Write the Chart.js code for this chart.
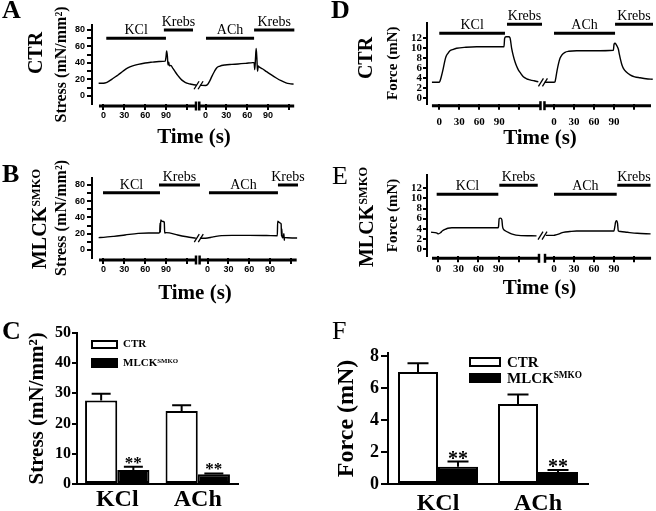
<!DOCTYPE html>
<html>
<head>
<meta charset="utf-8">
<script src="https://cdn.jsdelivr.net/npm/chart.js@4.4.0/dist/chart.umd.min.js"></script>
<style>
body { margin: 0; background: #fff; }
#fig { position: relative; width: 656px; height: 511px; overflow: hidden; background: #fff; color: #000;
       font-family: "Liberation Serif", "Times New Roman", serif; }
#fig canvas { position: absolute; left: 0; top: 0; }
.t { position: absolute; white-space: nowrap; line-height: 1; }
.letter { font-size: 26px; font-weight: bold; }
.row { font-size: 20px; font-weight: bold; transform: translate(-50%, -50%) rotate(-90deg); }
.sup { position: relative; top: -0.5em; font-size: 0.62em; }
.box { position: absolute; box-sizing: border-box; border: 2px solid #000; background: #fff; }
.box.k { background: #000; }
.leg { font-weight: bold; }
</style>
</head>
<body>
<div id="fig">
  <canvas id="cA" width="656" height="511"></canvas>
  <canvas id="cB" width="656" height="511"></canvas>
  <canvas id="cC" width="656" height="511"></canvas>
  <canvas id="cD" width="656" height="511"></canvas>
  <canvas id="cE" width="656" height="511"></canvas>
  <canvas id="cF" width="656" height="511"></canvas>

  <div class="t letter" style="left:2px;top:-3px">A</div>
  <div class="t letter" style="left:2px;top:161px">B</div>
  <div class="t letter" style="left:2px;top:318px">C</div>
  <div class="t letter" style="left:331px;top:-3px">D</div>
  <div class="t letter" style="left:332px;top:163px;font-weight:normal">E</div>
  <div class="t letter" style="left:332px;top:318px;font-weight:normal">F</div>

  <div class="t row" style="left:35px;top:53px">CTR</div>
  <div class="t row" style="left:39px;top:219px">MLCK<span class="sup">SMKO</span></div>
  <div class="t row" style="left:365px;top:58px">CTR</div>
  <div class="t row" style="left:366px;top:217px">MLCK<span class="sup">SMKO</span></div>

  <div class="box" style="left:91px;top:340px;width:27px;height:9px"></div>
  <div class="box k" style="left:91px;top:358px;width:27px;height:10px"></div>
  <div class="t leg" style="left:123px;top:338px;font-size:11px">CTR</div>
  <div class="t leg" style="left:123px;top:357px;font-size:11px">MLCK<span class="sup">SMKO</span></div>

  <div class="box" style="left:469px;top:357px;width:32px;height:10px"></div>
  <div class="box k" style="left:469px;top:373px;width:32px;height:10px"></div>
  <div class="t leg" style="left:507px;top:355px;font-size:15px">CTR</div>
  <div class="t leg" style="left:507px;top:371px;font-size:15px">MLCK<span class="sup">SMKO</span></div>
</div>

<script>
// time axis of every trace: two recordings, each with its own 0..120 s
const timeTicks = [0, 30, 60, 90, 120]
const timeLabels = ['0', '30', '60', '90', '']
const stimNames = ['KCl', 'Krebs', 'ACh', 'Krebs']

// A  CTR stress (mN/mm2), [time s, value]
const ctrStressKcl = [[-7,15.4],[0,15.5],[4,16.2],[8,18],[14,21.5],[21,25.5],[28,30],[35,34],[42,36.5],[50,38.4],[60,40],[70,41],[80,41.8],[89,42.3],[90,47],[91,54.5],[92,49],[93,37.6],[94,41],[95,36.5],[97,37],[100,33.5],[104,28.5],[107,25],[111,21],[115,18],[120,15.5],[125,14.5],[130,13.6],[134,13.3]]
const ctrStressAch = [[-8,13],[0,12.8],[3,14],[6,18],[9,23.5],[13,30],[16,34],[20,36],[28,37.6],[38,38.3],[47,38.8],[58,39.6],[68,40.4],[70,40.5],[71,32],[72,45],[73,57.5],[74,46],[75,30],[76,36.5],[77,35.5],[82,33],[88,29.5],[95,25.5],[102,21.8],[109,18.5],[116,16],[121,15],[127,14.4]]
const ctrStressStim = [[4,90],[87,129],[0.7,70],[70,128]]

// B  MLCK SMKO stress
const koStressKcl = [[-7,15.2],[0,15.5],[15,16.8],[31,18.5],[50,20.5],[65,21],[80,21],[81,21.5],[81.5,33],[82,22],[82.5,37],[84,35.5],[86,35],[87.6,34],[88.2,21],[90,21.4],[95,21],[107,18.5],[120,16.3],[133,14.5]]
const koStressAch = [[-11,14.5],[0,14.8],[6,15.8],[12,16.8],[20,17.7],[35,18],[60,18],[85,17.8],[100.5,17.6],[101,35.5],[103,34],[105,33],[106,32],[106.5,17],[107,26],[107.5,15],[109,16],[110,20],[110.5,12],[111,15.5],[115,15],[122,14.8],[129,14.8]]
const koStressStim = [[-0.7,81.4],[80,139],[2,101.4],[101.4,130.3]]

// D  CTR force (mN)
const ctrForceKcl = [[-11,3.2],[0,3.2],[1,3.4],[3,4.3],[6,6],[8,7.3],[10,8.3],[13,9],[16,9.5],[21,9.8],[26,10],[40,10.2],[56,10.3],[80,10.3],[97,10.3],[98,12],[100,12.3],[104,12.3],[106,12.1],[108.5,10],[111,8.5],[113.5,7.3],[116,6.4],[118.5,5.7],[122,5],[126,4.3],[131,3.9],[136,3.7],[142,3.5],[148.5,3.3]]
const ctrForceAch = [[-14,3.2],[0,3.2],[1.5,3.3],[3,4.3],[4.5,5.5],[6.5,6.8],[9,8],[12,8.7],[16.5,9.2],[22,9.4],[34,9.5],[60,9.5],[89,9.6],[90,10.8],[91.5,11],[93,10.8],[95,10.3],[96.5,9.8],[98,8.8],[100,7.6],[102,6.6],[104,6],[108,5.3],[114,4.7],[121,4.3],[129,4.1],[138,3.9],[148,3.8]]
const ctrForceStim = [[0,98.5],[101.5,154],[0,91.5],[91.5,148.4]]

// E  MLCK SMKO force
const koForceKcl = [[-11,3.3],[-3,3.2],[0,3.0],[3,3.2],[6,3.6],[10,3.9],[14,4.1],[20,4.2],[40,4.2],[89,4.2],[90,4.4],[91,6.0],[93,6.1],[95,5.8],[96,4.5],[97,4.0],[100,3.6],[106,3.2],[112,2.9],[120,2.7],[147,2.6]]
const koForceAch = [[-12,2.7],[0,2.7],[3,2.8],[8,3.0],[14,3.3],[24,3.45],[34,3.55],[60,3.55],[90,3.55],[91.5,4.5],[92.5,5.3],[94,5.6],[95.5,5.0],[96.5,3.6],[100,3.45],[110,3.3],[125,3.1],[145,3.0]]
const koForceStim = [[-2.7,89.7],[91.2,148.8],[0.2,94.2],[95,145]]

// C and F summary bars, mean and SEM
const groups = ['KCl', 'ACh']
const stressCtr = [27.6, 24.1]
const stressCtrSem = [2.2, 1.9]
const stressKo = [4.6, 3.2]
const stressKoSem = [1.1, 0.3]
const forceCtr = [7.0, 5.0]
const forceCtrSem = [0.55, 0.6]
const forceKo = [1.08, 0.75]
const forceKoSem = [0.32, 0.12]

const serif = '"Liberation Serif", "Times New Roman", serif'
const sans = '"Liberation Sans", Arial, sans-serif'
Chart.defaults.color = '#000'
Chart.defaults.font.family = serif

function tracePlugin(p) {
    return {
        id: 'trace',
        afterDraw(chart) {
            const ctx = chart.ctx
            const x = chart.scales.x
            const y = chart.scales.y
            ctx.save()
            ctx.fillStyle = '#000'
            ctx.strokeStyle = '#000'
            // break marks on the trace
            const bx = x.getPixelForValue(p.brk[0])
            const by = y.getPixelForValue(p.brk[1])
            ctx.lineWidth = 1.3
            ;[-2, 2].forEach(d => {
                ctx.beginPath()
                ctx.moveTo(bx + d - 2.5, by + 4)
                ctx.lineTo(bx + d + 2.5, by - 4)
                ctx.stroke()
            })
            // stimulus labels
            ctx.font = '14px ' + serif
            ctx.textAlign = 'center'
            ctx.textBaseline = 'alphabetic'
            chart.data.datasets.forEach((ds, i) => {
                if (!ds.stim) return
                const pts = chart.getDatasetMeta(i).data
                ctx.fillText(ds.label, (pts[0].x + pts[1].x) / 2, pts[0].y - 4)
            })
            ctx.restore()
        },
    }
}

function makeTrace(id, p) {
    const off = p.offset
    const [L, T, R, B] = p.area
    const perUnit = (B - T) / (p.yMax - p.yMin)
    const axisVal = p.yMin - p.axisGap / perUnit
    const barHalf = 4.5 / perUnit
    const shift = (pts, d) => pts.map(([t, v]) => ({ x: t + d, y: v }))
    const line = { borderColor: '#000', borderWidth: 1.4, pointRadius: 0, cubicInterpolationMode: 'monotone', clip: false }
    const flat = { borderColor: '#000', pointRadius: 0, clip: false, borderCapStyle: 'butt' }
    const datasets = [
        { data: shift(p.seg1, 0), ...line },
        { data: shift(p.seg2, off), ...line },
    ]
    stimNames.forEach((name, i) => {
        const [a, b] = p.stim[i]
        const d = i < 2 ? 0 : off
        const lvl = name == 'Krebs' ? p.krebsLevel : p.drugLevel
        datasets.push({ label: name, stim: true, data: [{ x: a + d, y: lvl }, { x: b + d, y: lvl }], borderWidth: 3, ...flat })
    })
    // broken time axis: two segments with a bar at each side of the gap
    p.axisSegs.forEach(([a, b], i) => {
        const e = i == 0 ? b : a
        datasets.push({ data: [{ x: a, y: axisVal }, { x: b, y: axisVal }], borderWidth: 3, ...flat })
        datasets.push({ data: [{ x: e, y: axisVal - barHalf }, { x: e, y: axisVal + barHalf }], borderWidth: 2.5, ...flat })
    })
    const yW = L - (p.yTitleX - p.yTitleSize * 0.6)
    const xH = p.xTitleY + 21 * 0.6 - B
    const tickLen = p.axisGap + 4
    return new Chart(document.getElementById(id), {
        type: 'line',
        data: { datasets },
        options: {
            responsive: false,
            animation: false,
            events: [],
            layout: { padding: { left: L - yW, top: T, right: 656 - R, bottom: 511 - B - xH } },
            plugins: { legend: { display: false }, tooltip: { enabled: false } },
            scales: {
                x: {
                    type: 'linear', min: p.xMin, max: p.xMax,
                    afterFit: s => { s.height = xH },
                    afterBuildTicks: s => {
                        s.ticks = [...timeTicks, ...timeTicks.map(t => t + off)].map(v => ({ value: v }))
                    },
                    ticks: {
                        autoSkip: false, maxRotation: 0, padding: p.xTickPad - tickLen,
                        font: p.tickFont, color: '#000',
                        callback: v => timeLabels[timeTicks.indexOf(v >= off ? v - off : v)],
                    },
                    grid: { display: true, drawOnChartArea: false, drawTicks: true, tickLength: tickLen, lineWidth: 2, color: '#000' },
                    border: { display: false },
                    title: { display: true, text: 'Time (s)', padding: 0, font: { size: 21, weight: 'bold', family: serif } },
                },
                y: {
                    min: p.yMin, max: p.yMax,
                    afterFit: s => { s.width = yW },
                    afterBuildTicks: s => { s.ticks = p.yTicks.map(v => ({ value: v })) },
                    ticks: {
                        autoSkip: false, padding: p.yTickPad, font: p.tickFont, color: '#000',
                        callback: v => (v % p.yLabelEvery === 0 ? v : ''),
                    },
                    grid: { drawOnChartArea: false, tickLength: p.yTickLen, lineWidth: 2, color: '#000' },
                    border: { display: true, width: 2, color: '#000' },
                    title: { display: true, text: p.yTitle, padding: 0, font: { size: p.yTitleSize, weight: 'bold', family: serif } },
                },
            },
        },
        plugins: [tracePlugin(p)],
    })
}

function barPlugin(p) {
    return {
        id: 'errbars',
        afterDraw(chart) {
            const ctx = chart.ctx
            const y = chart.scales.y
            ctx.save()
            ctx.strokeStyle = '#000'
            ctx.fillStyle = '#000'
            ctx.lineWidth = 2
            chart.data.datasets.forEach((ds, i) => {
                chart.getDatasetMeta(i).data.forEach((bar, j) => {
                    const top = y.getPixelForValue(ds.data[j] + ds.sem[j])
                    ctx.beginPath()
                    ctx.moveTo(bar.x, bar.y)
                    ctx.lineTo(bar.x, top)
                    ctx.moveTo(bar.x - p.cap / 2, top)
                    ctx.lineTo(bar.x + p.cap / 2, top)
                    ctx.stroke()
                    if (ds.stars) {
                        ctx.font = 'bold ' + p.starSize + 'px ' + serif
                        ctx.textAlign = 'center'
                        ctx.textBaseline = 'alphabetic'
                        ctx.fillText('**', bar.x, top + p.starDy)
                    }
                })
            })
            ctx.restore()
        },
    }
}

function makeBars(id, p) {
    const [L, T, R, B] = p.area
    const yW = L - (p.yTitleX - p.yTitleSize * 0.6)
    return new Chart(document.getElementById(id), {
        type: 'bar',
        data: {
            labels: groups,
            datasets: [
                { label: 'CTR', data: p.ctr, sem: p.ctrSem, backgroundColor: '#fff', borderColor: '#000', borderWidth: 2, borderSkipped: false },
                { label: 'MLCK', data: p.ko, sem: p.koSem, stars: true, backgroundColor: '#000', borderColor: '#000', borderWidth: 2, borderSkipped: false },
            ],
        },
        options: {
            responsive: false,
            animation: false,
            events: [],
            categoryPercentage: 0.8,
            barPercentage: 1,
            layout: { padding: { left: L - yW, top: T, right: 656 - R, bottom: 0 } },
            plugins: { legend: { display: false }, tooltip: { enabled: false } },
            scales: {
                x: {
                    afterFit: s => { s.height = 511 - B },
                    ticks: { padding: p.xTickPad, font: { size: 24, weight: 'bold', family: serif }, color: '#000' },
                    grid: { display: false, drawTicks: false, tickLength: 0 },
                    border: { display: true, width: 2, color: '#000' },
                },
                y: {
                    min: 0, max: p.yMax,
                    afterFit: s => { s.width = yW },
                    afterBuildTicks: s => { s.ticks = p.yTicks.map(v => ({ value: v })) },
                    ticks: { padding: p.yTickPad, font: { size: p.yTickSize, weight: 'bold', family: serif }, color: '#000' },
                    grid: { drawOnChartArea: false, tickLength: p.yTickLen, lineWidth: 2, color: '#000' },
                    border: { display: true, width: 2, color: '#000' },
                    title: { display: true, text: p.yTitle, padding: 0, font: { size: p.yTitleSize, weight: 'bold', family: serif } },
                },
            },
        },
        plugins: [barPlugin(p)],
    })
}

const smallSans = { size: 9, weight: 'bold', family: sans }
const smallSerif = { size: 11, weight: 'bold', family: serif }

makeTrace('cA', {
    seg1: ctrStressKcl, seg2: ctrStressAch, stim: ctrStressStim, offset: 147,
    drugLevel: 70, krebsLevel: 80,
    area: [92, 25, 296, 104], xMin: -16.57, xMax: 277.4, yMin: -9.7, yMax: 86.06,
    yTicks: [0, 10, 20, 30, 40, 50, 60, 70, 80], yLabelEvery: 20,
    axisGap: 2, axisSegs: [[-6.5, 133.3], [138, 274.8]], brk: [137, 13],
    tickFont: smallSans, xTickPad: 6.6, yTickPad: 2, yTickLen: 5,
    yTitle: 'Stress (mN/mm²)', yTitleX: 62, yTitleSize: 16, xTitleY: 137.5,
})

makeTrace('cB', {
    seg1: koStressKcl, seg2: koStressAch, stim: koStressStim, offset: 150,
    drugLevel: 70.5, krebsLevel: 80,
    area: [92, 178, 298, 258], xMin: -16.57, xMax: 280.3, yMin: -9.85, yMax: 88.6,
    yTicks: [0, 10, 20, 30, 40, 50, 60, 70, 80], yLabelEvery: 20,
    axisGap: 2, axisSegs: [[-6.5, 133.3], [138.5, 278.4]], brk: [137.3, 14.5],
    tickFont: smallSans, xTickPad: 6.6, yTickPad: 2, yTickLen: 5,
    yTitle: 'Stress (mN/mm²)', yTitleX: 62, yTitleSize: 16, xTitleY: 294,
})

makeTrace('cD', {
    seg1: ctrForceKcl, seg2: ctrForceAch, stim: ctrForceStim, offset: 172,
    drugLevel: 13, krebsLevel: 14.8,
    area: [427, 23, 653, 103.5], xMin: -18.4, xMax: 320.4, yMin: -1.04, yMax: 15.06,
    yTicks: [0, 2, 4, 6, 8, 10, 12], yLabelEvery: 2,
    axisGap: 2.2, axisSegs: [[-11, 151.7], [157.7, 317.4]], brk: [155.4, 3.2],
    tickFont: smallSerif, xTickPad: 11.9, yTickPad: 1, yTickLen: 4,
    yTitle: 'Force (mN)', yTitleX: 393, yTitleSize: 15, xTitleY: 139,
})

makeTrace('cE', {
    seg1: koForceKcl, seg2: koForceAch, stim: koForceStim, offset: 173,
    drugLevel: 10.8, krebsLevel: 12.6,
    area: [427, 175, 652, 256], xMin: -17.2, xMax: 320.1, yMin: -1.38, yMax: 14.62,
    yTicks: [0, 2, 4, 6, 8, 10, 12], yLabelEvery: 2,
    axisGap: 2.3, axisSegs: [[-9.7, 150.7], [159.7, 318.7]], brk: [156, 2.65],
    tickFont: smallSerif, xTickPad: 6.4, yTickPad: 1, yTickLen: 4,
    yTitle: 'Force (mN)', yTitleX: 393, yTitleSize: 15, xTitleY: 289,
})

makeBars('cC', {
    ctr: stressCtr, ctrSem: stressCtrSem, ko: stressKo, koSem: stressKoSem,
    area: [77, 332.75, 238, 484], yMax: 50, yTicks: [0, 10, 20, 30, 40, 50],
    yTickSize: 16, yTickPad: 1, yTickLen: 5, xTickPad: 1.6,
    yTitle: 'Stress (mN/mm²)', yTitleX: 38, yTitleSize: 21,
    cap: 19, starSize: 17, starDy: 1,
})

makeBars('cF', {
    ctr: forceCtr, ctrSem: forceCtrSem, ko: forceKo, koSem: forceKoSem,
    area: [388, 352.8, 588, 484], yMax: 8.2, yTicks: [0, 2, 4, 6, 8],
    yTickSize: 18, yTickPad: 2, yTickLen: 7, xTickPad: 5.6,
    yTitle: 'Force (mN)', yTitleX: 347, yTitleSize: 24,
    cap: 21, starSize: 20, starDy: 3,
})
</script>
</body>
</html>
